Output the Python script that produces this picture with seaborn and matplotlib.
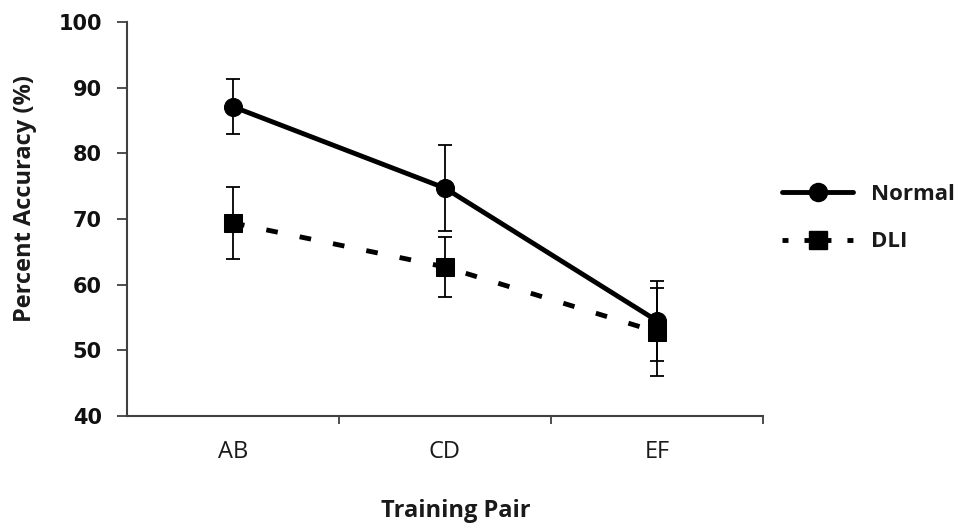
import matplotlib
matplotlib.use("Agg")
import matplotlib.pyplot as plt
import seaborn as sns
import pandas as pd
from matplotlib.lines import Line2D
from matplotlib.ticker import FixedLocator

# ---- data ----
pairs = ["AB", "CD", "EF"]
groups = ["Normal", "DLI"]
normal_mean = [87.1, 74.7, 54.5]
normal_err = [4.2, 6.5, 6.1]
dli_mean = [69.4, 62.7, 52.8]
dli_err = [5.5, 4.6, 6.7]
y_ticks = [40, 50, 60, 70, 80, 90, 100]

sns.set_theme(style="ticks")
plt.rcParams['font.family'] = ['Open Sans', 'DejaVu Sans']

df = pd.DataFrame({
    "Training Pair": pairs * 2,
    "Accuracy": normal_mean + dli_mean,
    "Group": [groups[0]] * 3 + [groups[1]] * 3,
})

fig = plt.figure(figsize=(9.58, 5.29), dpi=100)
ax = fig.add_axes([127 / 958, 1 - 416 / 529, (763 - 127) / 958, (416 - 22) / 529])

LW = 3.5
MS = 13
DASH = (2.4, 4.6)

sns.lineplot(data=df, x="Training Pair", y="Accuracy", style="Group",
             markers={"Normal": "o", "DLI": "s"},
             dashes={"Normal": "", "DLI": DASH},
             color="black", linewidth=LW, markersize=MS,
             markeredgecolor="black", ax=ax, legend=False, sort=False,
             zorder=3)

for m, e in [(normal_mean, normal_err), (dli_mean, dli_err)]:
    ax.errorbar(pairs, m, yerr=e, fmt="none", ecolor="black",
                elinewidth=1.3, capsize=5, capthick=1.3, zorder=2)

ax.set_xlim(-0.5, 2.5)
ax.set_ylim(40, 100)
ax.set_yticks(y_ticks)
ax.set_yticklabels([str(t) for t in y_ticks], fontfamily="DejaVu Sans",
                   fontweight="bold", fontsize=15, color="#111111")
ax.tick_params(axis="y", direction="out", length=7, width=1.3,
               color="#404040", pad=11)
ax.tick_params(axis="x", which="major", length=0, pad=17, labelsize=17,
               labelcolor="#1a1a1a")
ax.xaxis.set_minor_locator(FixedLocator([0.5, 1.5, 2.5]))
ax.tick_params(axis="x", which="minor", direction="out", length=6,
               width=1.3, color="#404040")

for s in ["top", "right"]:
    ax.spines[s].set_visible(False)
for s in ["left", "bottom"]:
    ax.spines[s].set_color("#404040")
    ax.spines[s].set_linewidth(1.5)

ax.set_xlabel("Training Pair", fontsize=17, fontweight="bold", color="#1a1a1a")
ax.xaxis.set_label_coords(0.517, -0.21)
ax.set_ylabel("Percent Accuracy (%)", fontsize=17, fontweight="bold",
              color="#1a1a1a")
ax.yaxis.label.set_verticalalignment("center")
ax.yaxis.label.set_horizontalalignment("center")
ax.yaxis.set_label_coords(-0.160, 0.551)

handles = [
    Line2D([0], [0], color="black", lw=LW, marker="o", ms=MS),
    Line2D([0], [0], color="black", lw=LW, marker="s", ms=MS,
           dashes=(1.23, 3.29, 5.55, 3.29, 1.23, 10)),
]
leg = fig.legend(handles, groups, loc="center left",
                 bbox_to_anchor=(782 / 958, 1 - 218 / 529),
                 frameon=False, borderaxespad=0, borderpad=0,
                 handlelength=3.2, handletextpad=0.8, labelspacing=1.2,
                 prop={"family": "Open Sans", "weight": "bold", "size": 16})
for t in leg.get_texts():
    t.set_color("#1a1a1a")

fig.savefig("out.png", dpi=100, facecolor="white")
